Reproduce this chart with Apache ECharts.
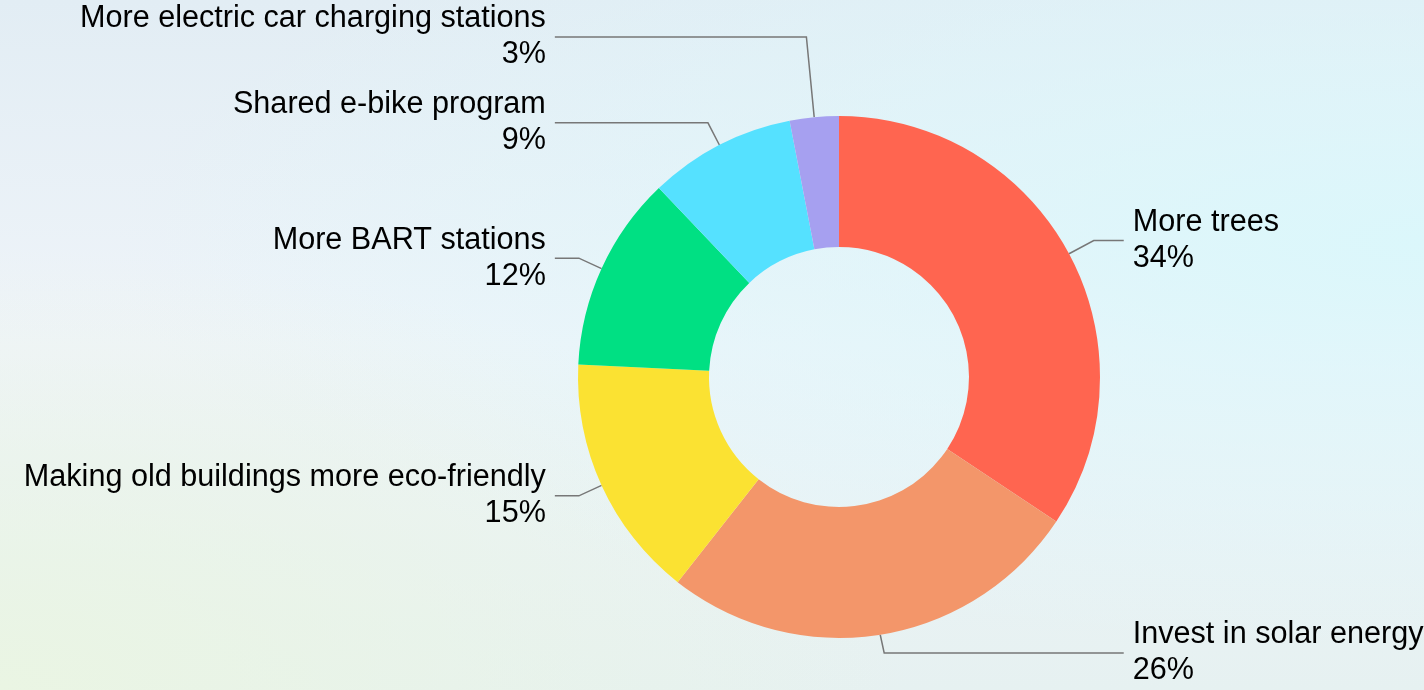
<!DOCTYPE html>
<html>
<head>
<meta charset="utf-8">
<script src="https://cdn.jsdelivr.net/npm/echarts@6/dist/echarts.min.js"></script>
<style>
  html, body { margin: 0; padding: 0; }
  #main {
    width: 1424px;
    height: 690px;
    background:
      radial-gradient(ellipse at 0% 100%, #eaf5e3 0%, rgba(234,245,227,0) 45%),
      radial-gradient(ellipse at 100% 35%, #dbf7fb 0%, rgba(219,247,251,0) 65%),
      linear-gradient(180deg, #e2edf4 0%, #eff4f9 50%, #e6f1f1 100%);
  }
</style>
</head>
<body>
<div id="main"></div>
<script>
// survey answers, clockwise from 12 o'clock
var categories = [
  'More trees',
  'Invest in solar energy',
  'Making old buildings more eco-friendly',
  'More BART stations',
  'Shared e-bike program',
  'More electric car charging stations'
];
var shares = [34, 26, 15, 12, 9, 3];
var colors = ['#ff6550', '#f3966a', '#fbe232', '#00e083', '#55e1ff', '#a6a0f0'];

var chart = echarts.init(document.getElementById('main'), null, { renderer: 'canvas' });

// a few label lines need their own lengths so the labels sit like the original
var lineTweaks = {
  'More trees': { length: 28, length2: 30 },
  'More electric car charging stations': { length: 82 }
};

var pieData = [];
for (var i = 0; i < categories.length; i++) {
  var item = { name: categories[i], value: shares[i] };
  if (lineTweaks[categories[i]]) {
    item.labelLine = lineTweaks[categories[i]];
  }
  pieData.push(item);
}

var option = {
  backgroundColor: 'transparent',
  color: colors,
  animation: false,
  series: [{
    type: 'pie',
    center: [839, 377],
    radius: [130, 261],
    startAngle: 90,
    clockwise: true,
    avoidLabelOverlap: true,
    data: pieData,
    label: {
      show: true,
      formatter: '{b}\n{c}%',
      fontFamily: 'Liberation Sans, Arial, sans-serif',
      fontSize: 30.6,
      lineHeight: 36,
      color: '#000',
      alignTo: 'labelLine',
      distanceToLabelLine: 9,
      bleedMargin: 0,
      overflow: 'none'
    },
    labelLine: {
      show: true,
      length: 25,
      length2: 24,
      lineStyle: { color: '#777', width: 1.5 }
    },
    itemStyle: { borderWidth: 0 }
  }]
};

chart.setOption(option);
</script>
</body>
</html>
